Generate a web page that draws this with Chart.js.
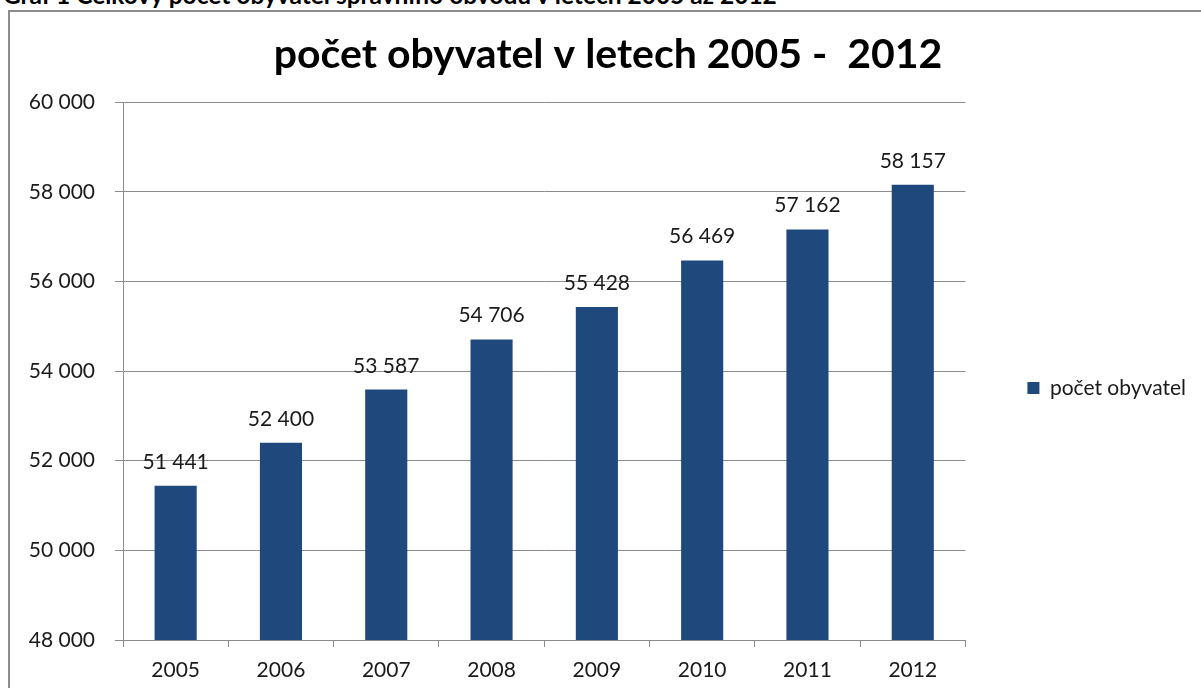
<!DOCTYPE html>
<html>
<head>
<meta charset="utf-8">
<script src="https://cdn.jsdelivr.net/npm/chart.js@4"></script>
<style>
  html, body { margin: 0; padding: 0; width: 1201px; height: 688px; overflow: hidden; background: #fff; }
  #popisek { position: absolute; left: 3px; top: -17px; font: bold 24.5px/24.5px Lato, "Liberation Sans", sans-serif; color: #000; white-space: nowrap; }
  #ramecek { position: absolute; left: 8px; top: 10px; width: 1300px; height: 800px; border: 2px solid #8c8c8c; }
  #graf { position: absolute; left: 0; top: 0; }
</style>
</head>
<body>
<div id="popisek">Graf 1 Celkový počet obyvatel správního obvodu v letech 2005 až 2012</div>
<div id="ramecek"></div>
<canvas id="graf" width="1201" height="688"></canvas>
<script>
const roky = ["2005", "2006", "2007", "2008", "2009", "2010", "2011", "2012"];
const pocetObyvatel = [51441, 52400, 53587, 54706, 55428, 56469, 57162, 58157];
const nazevGrafu = "počet obyvatel v letech 2005 -  2012";
const nazevRady = "počet obyvatel";

const pismo = "Lato, 'Open Sans', sans-serif";

function formatCislo(v) {
  return String(v).replace(/\B(?=(\d{3})+(?!\d))/g, " ");
}

// popisky hodnot nad sloupci
const popiskyHodnot = {
  id: "popiskyHodnot",
  afterDatasetsDraw(chart) {
    const ctx = chart.ctx;
    const meta = chart.getDatasetMeta(0);
    ctx.save();
    ctx.font = "21px " + pismo;
    ctx.fillStyle = "#1a1a1a";
    ctx.textAlign = "center";
    ctx.textBaseline = "alphabetic";
    meta.data.forEach((bar, i) => {
      ctx.fillText(formatCislo(chart.data.datasets[0].data[i]), bar.x, bar.y - 17);
    });
    ctx.restore();
  }
};

new Chart(document.getElementById("graf"), {
  type: "bar",
  data: {
    labels: roky,
    datasets: [{
      label: nazevRady,
      data: pocetObyvatel,
      backgroundColor: "#1f497d",
      categoryPercentage: 1,
      barPercentage: 0.4
    }]
  },
  options: {
    responsive: false,
    animation: false,
    layout: { padding: { left: 20, right: 5, top: 0, bottom: 0 } },
    plugins: {
      title: {
        display: true,
        text: nazevGrafu,
        font: { family: pismo, size: 41, weight: "bold" },
        color: "#000",
        padding: { top: 30, bottom: 23 }
      },
      legend: {
        position: "right",
        title: { display: true, text: " ", font: { size: 10 }, padding: 38 },
        labels: {
          boxWidth: 12,
          boxHeight: 12,
          padding: 62,
          color: "#1a1a1a",
          font: { family: pismo, size: 21 }
        }
      },
      tooltip: { enabled: false }
    },
    scales: {
      x: {
        grid: { display: true, offset: true, drawOnChartArea: false, drawTicks: true, tickLength: 7, color: "#8c8c8c" },
        border: { color: "#8c8c8c" },
        ticks: { color: "#1a1a1a", font: { family: pismo, size: 21 }, padding: 11 },
        afterFit(scale) { scale.height = 48; }
      },
      y: {
        min: 48000,
        max: 60000,
        ticks: {
          stepSize: 2000,
          color: "#1a1a1a",
          font: { family: pismo, size: 21 },
          padding: 20,
          callback: (v) => formatCislo(v)
        },
        grid: { color: "#8c8c8c", tickLength: 8 },
        border: { color: "#8c8c8c" },
        afterFit(scale) { scale.width = 103; }
      }
    }
  },
  plugins: [popiskyHodnot]
});
</script>
</body>
</html>
